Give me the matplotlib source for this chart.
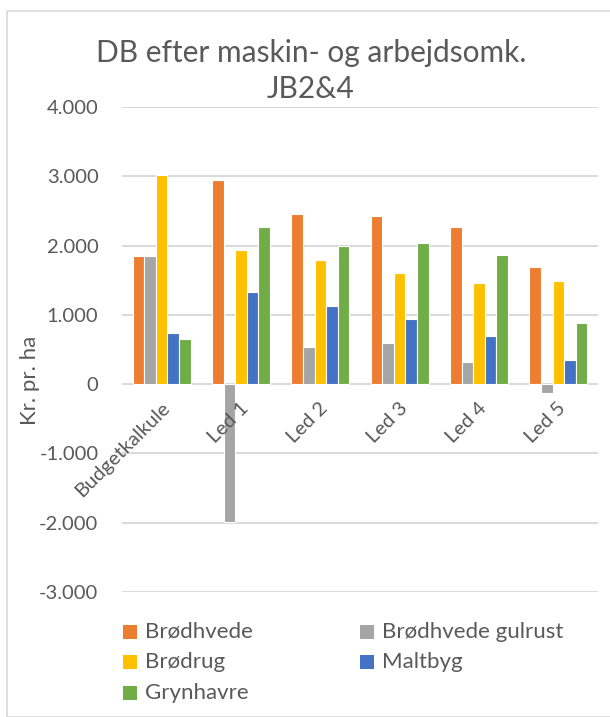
import matplotlib
matplotlib.use("Agg")
import matplotlib.pyplot as plt
import numpy as np
from matplotlib.ticker import FuncFormatter, FixedLocator
from matplotlib.patches import Rectangle

plt.rcParams['font.family'] = ['Lato', 'DejaVu Sans']

categories = ["Budgetkalkule", "Led 1", "Led 2", "Led 3", "Led 4", "Led 5"]
series_names = ["Brødhvede", "Brødhvede gulrust", "Brødrug", "Maltbyg", "Grynhavre"]
brodhvede = [1850, 2940, 2450, 2430, 2265, 1690]
brodhvede_gulrust = [1850, -1990, 535, 600, 320, -135]
brodrug = [3020, 1935, 1790, 1600, 1460, 1495]
maltbyg = [745, 1325, 1130, 945, 690, 355]
grynhavre = [650, 2265, 2000, 2035, 1870, 880]
yticks = [-3000, -2000, -1000, 0, 1000, 2000, 3000, 4000]

series = [brodhvede, brodhvede_gulrust, brodrug, maltbyg, grynhavre]
colors = ["#ED7D31", "#A5A5A5", "#FFC000", "#4472C4", "#70AD47"]
text_c = "#595959"
grid_c = "#D9D9D9"

W, H = 610, 717
fig = plt.figure(figsize=(W / 100, H / 100), dpi=100)

# chart border
fig.patches.append(Rectangle((7 / W, 0), 1.2, (H - 11) / H, transform=fig.transFigure,
                             facecolor="none", edgecolor="#D9D9D9", linewidth=1.2))

ax_l, ax_r, ax_t, ax_b = 122, 598, 107, 592
ax = fig.add_axes([ax_l / W, 1 - ax_b / H, (ax_r - ax_l) / W, (ax_b - ax_t) / H])

x = np.arange(len(categories))
n = len(series)
bw = 0.146
for i, (vals, c, name) in enumerate(zip(series, colors, series_names)):
    ax.bar(x + (i - (n - 1) / 2) * bw, vals, width=bw, color=c, edgecolor="white",
           linewidth=0.8, label=name, zorder=3)

ax.set_xlim(-0.5, len(categories) - 0.5)
ax.set_ylim(-3000, 4000)
ax.yaxis.set_major_locator(FixedLocator(yticks))
ax.yaxis.set_major_formatter(FuncFormatter(lambda v, p: f"{int(v):,}".replace(",", ".")))
ax.grid(axis="y", color=grid_c, linewidth=1.4, zorder=0)
for s in ax.spines.values():
    s.set_visible(False)
ax.tick_params(axis="y", length=0, pad=17, labelsize=14.5, labelcolor=text_c)
ax.set_xticks([])
ax.axhline(0, color=grid_c, linewidth=1.4, zorder=2)

for xi, cat in zip(x, categories):
    ax.annotate(cat, xy=(xi, 0), xycoords="data", xytext=(11, -15), textcoords="offset pixels",
                rotation=45, ha="right", va="top", fontsize=14.5, color=text_c,
                rotation_mode="default")

fig.text(311 / W, 1 - 53 / H, "DB efter maskin- og arbejdsomk.", ha="center", va="center",
         fontsize=21.5, color=text_c)
fig.text(311 / W, 1 - 89 / H, "JB2&4", ha="center", va="center", fontsize=21.5, color=text_c)
fig.text(30 / W, 1 - 380 / H, "Kr. pr. ha", rotation=90, ha="center", va="center",
         fontsize=16, color=text_c)

# legend
leg_pos = [(123, 632), (360, 632), (123, 662), (360, 662), (123, 693)]
for (lx, ly), c, name in zip(leg_pos, colors, series_names):
    fig.patches.append(Rectangle((lx / W, 1 - (ly + 7) / H), 14 / W, 14 / H,
                                 transform=fig.transFigure, facecolor=c, edgecolor="none"))
    fig.text((lx + 22) / W, 1 - ly / H, name, ha="left", va="center", fontsize=16, color=text_c)

fig.savefig("out.png", dpi=100, facecolor="white")
